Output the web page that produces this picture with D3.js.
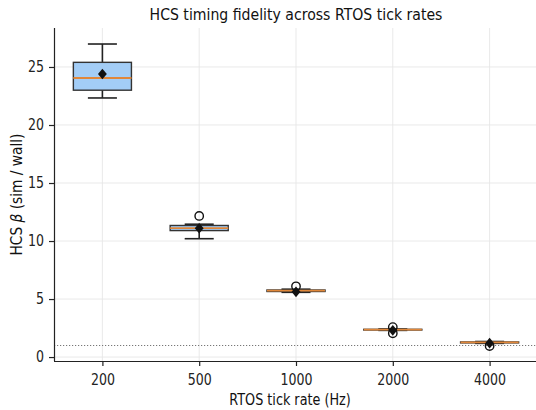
<!DOCTYPE html>
<html><head><meta charset="utf-8">
<script src="https://cdn.jsdelivr.net/npm/d3@7"></script>
<style>body{margin:0;background:#fff}svg{display:block}text{font-family:"DejaVu Sans",sans-serif}</style>
</head><body><svg id="c" width="536" height="410"></svg>
<script>
const categories = ["200","500","1000","2000","4000"];
const q1 =        [23.0, 10.9, 5.65, 2.33, 1.22];
const median =    [24.05, 11.12, 5.72, 2.36, 1.26];
const q3 =        [25.4, 11.34, 5.78, 2.39, 1.3];
const whiskLow =  [22.33, 10.2, 5.58, 2.3, 1.18];
const whiskHigh = [26.98, 11.45, 5.85, 2.42, 1.34];
const means =     [24.4, 11.1, 5.62, 2.3, 1.2];
const outliers =  [[], [12.16], [6.1], [2.58, 2.05], [0.95]];
const yTicks = [0,5,10,15,20,25];
const refLine = 1.0;

const svg = d3.select("#c");
const L=54, R=538, T=28, B=361;
const x = d3.scalePoint().domain(categories).range([L,R]).padding(0.5);
const step = x.step();
const y = d3.scaleLinear().domain([-0.34, 28.36]).range([B,T]);
const SX = 0.84;

// grid
const g = svg.append("g");
g.selectAll(".gx").data(categories).join("line")
  .attr("x1",d=>x(d)).attr("x2",d=>x(d)).attr("y1",T).attr("y2",B)
  .attr("stroke","#e6e6e6").attr("stroke-width",0.9);
g.selectAll(".gy").data(yTicks).join("line")
  .attr("x1",L).attr("x2",R).attr("y1",d=>y(d)).attr("y2",d=>y(d))
  .attr("stroke","#e6e6e6").attr("stroke-width",0.9);

// reference line
svg.append("line").attr("x1",L).attr("x2",R).attr("y1",y(refLine)).attr("y2",y(refLine))
  .attr("stroke","#777").attr("stroke-width",1.1).attr("stroke-dasharray","1.2,1.8");

const bw = step*0.6, cw = step*0.3;
const boxes = svg.append("g").selectAll("g").data(categories).join("g");
boxes.each(function(c,i){
  const s = d3.select(this), cx = x(c);
  const lw = 1.6;
  s.append("line").attr("x1",cx).attr("x2",cx).attr("y1",y(q3[i])).attr("y2",y(whiskHigh[i])).attr("stroke","#222").attr("stroke-width",lw);
  s.append("line").attr("x1",cx).attr("x2",cx).attr("y1",y(q1[i])).attr("y2",y(whiskLow[i])).attr("stroke","#222").attr("stroke-width",lw);
  s.append("line").attr("x1",cx-cw/2).attr("x2",cx+cw/2).attr("y1",y(whiskHigh[i])).attr("y2",y(whiskHigh[i])).attr("stroke","#222").attr("stroke-width",lw);
  s.append("line").attr("x1",cx-cw/2).attr("x2",cx+cw/2).attr("y1",y(whiskLow[i])).attr("y2",y(whiskLow[i])).attr("stroke","#222").attr("stroke-width",lw);
  s.append("rect").attr("x",cx-bw/2).attr("width",bw).attr("y",y(q3[i])).attr("height",Math.max(0.5,y(q1[i])-y(q3[i])))
    .attr("fill","#a3cdf6").attr("stroke","#333").attr("stroke-width",1.4);
  s.append("line").attr("x1",cx-bw/2).attr("x2",cx+bw/2).attr("y1",y(median[i])).attr("y2",y(median[i])).attr("stroke","#e0873a").attr("stroke-width",1.8);
  s.selectAll("circle").data(outliers[i]).join("circle").attr("cx",cx).attr("cy",d=>y(d)).attr("r",4.2)
    .attr("fill","none").attr("stroke","#111").attr("stroke-width",1.4);
  s.append("path").attr("d",d3.symbol(d3.symbolDiamond2,50)()).attr("transform",`translate(${cx},${y(means[i])}) scale(1,1.2)`).attr("fill","#111");
});

// axes
const ax = svg.append("g").attr("transform",`translate(0,${B})`).call(d3.axisBottom(x).tickSize(5).tickPadding(8));
const ay = svg.append("g").attr("transform",`translate(${L},0)`).call(d3.axisLeft(y).tickValues(yTicks).tickSize(5).tickPadding(6));
[ax,ay].forEach(a=>{a.selectAll("text").attr("font-size",15).attr("fill","#222").attr("font-family","DejaVu Sans");
  a.selectAll("line,path").attr("stroke","#222").attr("stroke-width",1.2);});
ax.selectAll(".tick text").attr("transform",`scale(${SX},1)`);
ay.selectAll(".tick text").attr("x",-10/SX).attr("transform",`scale(${SX},1)`);
ax.select(".domain").attr("d",`M${L},0.5H${R}`);
ay.select(".domain").attr("d",`M0.5,${T}V${B}`);

svg.append("text").attr("transform",`translate(${(L+R)/2},20) scale(0.88,1)`).attr("text-anchor","middle").attr("font-size",16).attr("fill","#111")
  .text("HCS timing fidelity across RTOS tick rates");
svg.append("text").attr("transform",`translate(${(L+R)/2 - 6},405) scale(0.8,1)`).attr("text-anchor","middle").attr("font-size",16).attr("fill","#111")
  .text("RTOS tick rate (Hz)");
const yl = svg.append("text").attr("transform",`translate(22,${(T+B)/2}) rotate(-90) scale(0.86,1)`).attr("text-anchor","middle").attr("font-size",16).attr("fill","#111");
yl.append("tspan").text("HCS ");
yl.append("tspan").attr("font-style","italic").text("β");
yl.append("tspan").text(" (sim / wall)");
</script></body></html>
